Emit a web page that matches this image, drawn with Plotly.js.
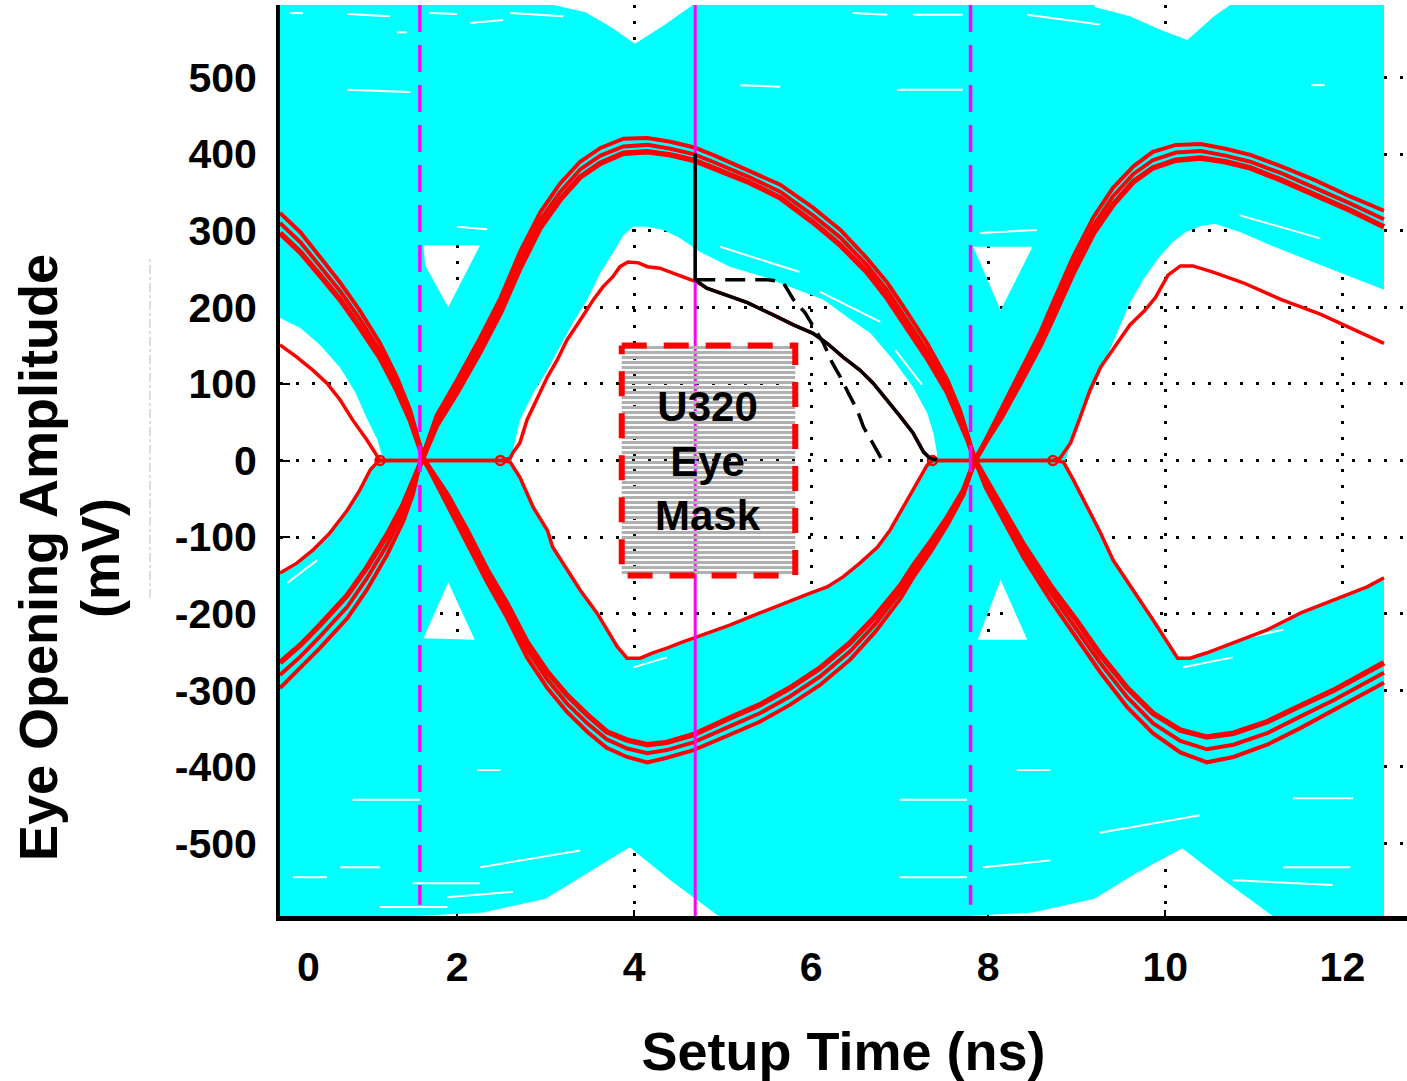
<!DOCTYPE html>
<html>
<head>
<meta charset="utf-8">
<script src="https://cdn.plot.ly/plotly-3.0.1.min.js"></script>
<style>html,body{margin:0;padding:0;background:#fff}#chart{width:1407px;height:1081px}</style>
</head>
<body>
<div id="chart"></div>
<script>
// ---------------- axis ticks ----------------
const xTickVals = [0, 2, 4, 6, 8, 10, 12];
const xTickText = ['\u00a0\u00a0\u00a0\u00a0\u00a00', '2', '4', '6', '8', '10', '12'];
const yTickVals = [-500, -400, -300, -200, -100, 0, 100, 200, 300, 400, 500];
const yTickText = ['-500', '-400', '-300', '-200', '-100', '0', '100', '200', '300', '400', '500'];

// ---------------- cyan waveform envelope (ns, mV) ----------------
const cyanOuterX = [-1, 12.47, 12.47, -1];
const cyanOuterY = [-700, -700, 700, 700];
// white openings inside the envelope
const eye0X = [-0.2, 0, 0.23, 0.45, 0.68, 0.85, 0.98, 1.10, 1.15, 1.14, 1.10, 1.02, 0.90, 0.76, 0.56, 0.37, 0.19, 0, -0.2];
const eye0Y = [194, 186, 173, 151, 121, 89, 55, 27, 7, 0, -2, -12, -39, -65, -95, -117, -134, -147, -156];
const eye1X = [2.62, 2.64, 2.71, 2.86, 3.02, 3.16, 3.31, 3.47, 3.62, 3.76, 3.88, 3.99, 4.15, 4.33, 4.52, 4.75, 5.08, 5.46, 5.84, 6.14, 6.41, 6.67, 6.93, 7.15, 7.31, 7.38, 7.42, 7.42,
  7.37, 7.31, 7.20, 7.04, 6.89, 6.75, 6.55, 6.36, 6.18, 5.99, 5.76, 5.42, 5.08, 4.67, 4.52, 4.37, 4.21, 4.07, 3.92, 3.81, 3.69, 3.58, 3.39, 3.24, 3.08, 3.02, 2.86, 2.71, 2.60];
const eye1Y = [0, 18, 53, 88, 118, 148, 180, 210, 245, 271, 294, 305, 305, 301, 290, 272, 253, 240, 223, 210, 187, 166, 131, 96, 62, 36, 10, 0,
  0, -6, -29, -61, -91, -113, -134, -152, -165, -173, -183, -199, -215, -232, -238, -245, -251, -258, -258, -243, -221, -199, -169, -143, -113, -91, -61, -22, -2];
const eye2X = [8.87, 8.95, 9.06, 9.19, 9.32, 9.47, 9.60, 9.75, 9.92, 10.08, 10.23, 10.40, 10.56, 10.85, 11.19, 11.58, 11.98, 12.27, 12.47,
  12.47, 12.28, 11.90, 11.53, 11.15, 10.77, 10.47, 10.28, 10.14, 9.86, 9.64, 9.41, 9.27, 9.12, 8.96, 8.85];
const eye2Y = [0, 27, 60, 95, 131, 170, 206, 236, 264, 285, 298, 306, 309, 298, 281, 263, 245, 232, 223,
  -153, -165, -182, -199, -221, -238, -251, -258, -258, -208, -169, -130, -95, -61, -25, -2];
const tri1UpX = [1.62, 2.26, 1.90, 1.64];
const tri1UpY = [281, 281, 200, 255];
const tri1DnX = [1.62, 2.20, 1.90];
const tri1DnY = [-232, -234, -159];
const tri2UpX = [7.83, 8.50, 8.14];
const tri2UpY = [279, 279, 196];
const tri2DnX = [7.88, 8.44, 8.14];
const tri2DnY = [-234, -234, -156];
const top1X = [3.0, 3.0, 3.45, 3.75, 4.01, 4.35, 4.69, 4.72];
const top1Y = [650, 597, 585, 565, 544, 569, 597, 650];
const top2X = [9.2, 9.2, 9.6, 9.95, 10.25, 10.55, 10.8, 10.85];
const top2Y = [650, 592, 580, 562, 549, 580, 600, 650];
const bot1X = [1.10, 1.16, 2.30, 3.00, 3.45, 3.95, 4.41, 4.97, 5.0];
const bot1Y = [-650, -597, -590, -572, -540, -505, -548, -596, -650];
const bot2X = [7.35, 7.39, 8.50, 9.20, 9.65, 10.19, 10.66, 11.23, 11.26];
const bot2Y = [-650, -597, -590, -572, -540, -506, -548, -596, -650];
// thin gaps between captured waveforms (white streaks), pairs separated by null
const streakX = [0.11, 0.26, null, 0.76, 1.24, null, 1.69, 2.00, null, 2.15, 2.52, null, 2.60, 3.20, null, 0.76, 1.47, null, 1.32, 1.43, null, 2.00, 2.34, null,
  6.47, 6.86, null, 7.15, 7.71, null, 8.44, 9.26, null, 5.20, 5.65, null, 6.97, 7.71, null, 7.91, 8.55, null, 11.65, 11.80, null,
  0.82, 1.58, null, 2.23, 2.49, null, 0.68, 1.13, null, 0.15, 0.53, null, 1.50, 2.26, null, 2.26, 3.39, null, 1.13, 1.89, null, 1.89, 2.63, null,
  7.00, 7.76, null, 8.32, 8.70, null, 11.44, 12.12, null, 9.26, 10.39, null, 7.00, 7.76, null, 7.94, 8.70, null, 11.33, 12.09, null, 10.76, 11.89, null,
  4.97, 5.87, null, 6.10, 6.78, null, 6.95, 7.25, null, 10.84, 11.75, null, 10.20, 10.76, null, 10.96, 11.33, null, 3.99, 4.37, null, 0.08, 0.42];
const streakY = [584, 584, null, 583, 580, null, 584, 583, null, 571, 575, null, 584, 580, null, 484, 481, null, 559, 559, null, 305, 302, null,
  584, 582, null, 582, 582, null, 582, 569, null, 490, 488, null, 484, 484, null, 297, 301, null, 490, 490, null,
  -443, -443, null, -404, -404, null, -531, -531, null, -544, -544, null, -552, -552, null, -531, -509, null, -583, -583, null, -570, -563, null,
  -443, -443, null, -404, -404, null, -441, -441, null, -486, -463, null, -544, -544, null, -531, -522, null, -531, -531, null, -548, -554, null,
  279, 246, null, 220, 181, null, 144, 99, null, 320, 290, null, -270, -257, null, -230, -221, null, -270, -257, null, -160, -130];

// ---------------- red worst-case waveforms ----------------
const p1X = [0, 0.23, 0.45, 0.68, 0.90, 1.13, 1.32, 1.47, 1.63, 1.89, 2.11, 2.34, 2.56, 2.79, 3.02, 3.24, 3.47, 3.69, 3.92, 4.15, 4.37, 4.67, 5.08, 5.42, 5.76, 6.10, 6.44, 6.72, 7.01, 7.15, 7.34, 7.54, 7.72, 7.85, 7.97, 8.14, 8.36, 8.59, 8.73, 8.96, 9.19, 9.41, 9.64, 9.86, 10.12, 10.40, 10.68, 10.96, 11.31, 11.69, 12.08, 12.47];
const p1Out = [323, 298, 266, 232, 196, 153, 109, 66, 0, -58, -106, -159, -204, -257, -297, -328, -354, -375, -387, -394, -388, -378, -358, -341, -319, -293, -260, -224, -180, -153, -121, -84, -45, 0, 27, 66, 116, 168, 206, 266, 318, 356, 384, 403, 412, 413, 407, 399, 384, 366, 345, 326];
const p1Mid = [310, 285, 254, 221, 185, 143, 100, 59, 0, -51, -98, -151, -195, -247, -286, -317, -343, -364, -376, -382, -378, -368, -347, -330, -308, -282, -249, -214, -171, -145, -114, -79, -42, 0, 25, 60, 108, 159, 196, 255, 307, 345, 374, 392, 402, 404, 398, 390, 375, 356, 336, 315];
const p1In = [297, 272, 242, 210, 174, 134, 92, 53, 0, -45, -91, -143, -186, -237, -276, -306, -332, -354, -365, -371, -368, -358, -336, -319, -297, -271, -238, -204, -163, -138, -108, -74, -39, 0, 24, 55, 101, 151, 186, 245, 297, 334, 364, 382, 392, 395, 390, 382, 366, 347, 327, 305];
const p2X = [0, 0.23, 0.45, 0.76, 0.98, 1.21, 1.39, 1.50, 1.59, 1.77, 2.00, 2.26, 2.49, 2.71, 2.94, 3.16, 3.39, 3.62, 3.88, 4.15, 4.41, 4.67, 4.89, 5.28, 5.65, 6.02, 6.33, 6.63, 6.86, 7.08, 7.31, 7.54, 7.68, 7.77, 7.85, 7.97, 8.14, 8.40, 8.70, 9.01, 9.27, 9.57, 9.86, 10.17, 10.47, 10.77, 11.15, 11.53, 11.90, 12.47];
const p2In = [-264, -241, -215, -176, -140, -97, -58, -28, 0, 46, 89, 142, 193, 251, 304, 340, 370, 388, 401, 403, 399, 392, 382, 364, 343, 311, 281, 246, 212, 173, 134, 89, 53, 27, 0, -25, -58, -110, -163, -211, -254, -297, -330, -352, -361, -356, -341, -320, -300, -264];
const p2Mid = [-280, -256, -230, -191, -154, -110, -69, -36, 0, 52, 97, 151, 202, 261, 314, 350, 380, 398, 410, 412, 407, 400, 390, 371, 351, 320, 291, 255, 222, 183, 143, 97, 59, 30, 0, -30, -64, -118, -172, -222, -265, -309, -343, -366, -377, -371, -356, -334, -313, -277];
const p2Out = [-297, -271, -245, -206, -169, -123, -80, -45, 0, 59, 105, 160, 212, 272, 324, 361, 390, 408, 420, 421, 416, 409, 399, 379, 360, 330, 301, 264, 232, 194, 153, 105, 66, 33, 0, -35, -71, -127, -182, -234, -277, -322, -356, -381, -394, -387, -371, -349, -326, -290];
// inner (eye-boundary) red waveforms
const innerUpX = [0, 0.19, 0.37, 0.53, 0.68, 0.82, 0.98, 1.07, 1.13, 2.49, 2.60, 2.63, 2.71, 2.79, 2.90, 3.02, 3.13, 3.24, 3.39, 3.54, 3.65, 3.76, 3.84, 3.93, 4.05, 4.15, 4.29, 4.44, 4.60, 4.71, 4.82, 5.05, 5.28, 5.57, 5.80, 6.02, 6.18, 6.36, 6.55, 6.70, 6.86, 7.01, 7.15, 7.27, 7.37, 8.73, 8.81, 8.93, 9.04, 9.15, 9.27, 9.44, 9.60, 9.77, 9.89, 10.03, 10.17, 10.31, 10.54, 10.88, 11.31, 11.75, 12.20, 12.47];
const innerUpY = [151, 135, 118, 101, 79, 53, 27, 10, 0, 0, 3, 10, 23, 53, 79, 109, 131, 157, 183, 210, 227, 240, 253, 259, 258, 253, 251, 245, 238, 233, 225, 216, 206, 190, 177, 166, 153, 135, 118, 101, 79, 57, 36, 11, 0, 0, 3, 23, 57, 92, 122, 151, 177, 196, 213, 242, 254, 254, 246, 232, 210, 191, 168, 153];
const innerLoX = [0, 0.19, 0.37, 0.56, 0.76, 0.90, 1.02, 1.10, 1.13, 2.49, 2.60, 2.71, 2.86, 3.02, 3.08, 3.24, 3.39, 3.58, 3.69, 3.81, 3.92, 4.07, 4.21, 4.37, 4.52, 4.67, 5.08, 5.42, 5.76, 5.99, 6.18, 6.36, 6.55, 6.75, 6.89, 7.04, 7.20, 7.31, 7.37, 8.73, 8.85, 8.96, 9.12, 9.27, 9.41, 9.64, 9.86, 10.14, 10.28, 10.47, 10.77, 11.15, 11.53, 11.90, 12.28, 12.47];
const innerLoY = [-147, -134, -117, -95, -65, -39, -12, -2, 0, 0, -2, -22, -61, -91, -113, -143, -169, -199, -221, -243, -258, -258, -251, -245, -238, -232, -215, -199, -183, -173, -165, -152, -134, -113, -91, -61, -29, -6, 0, 0, -2, -25, -61, -95, -130, -169, -208, -258, -258, -251, -238, -221, -199, -182, -165, -153];
const kinkX = [1.13, 2.49, 7.37, 8.73];
const kinkY = [0, 0, 0, 0];

// ---------------- markers & measurement ----------------
const dashedMarkerTimes = [1.58, 7.80];
const setupTime = 4.69;
const markerTop = 594.6, markerDashBottom = -580, markerBottom = -594.6;
const setupSolidX = [4.69, 4.69, 4.82, 5.05, 5.28, 5.57, 5.80, 6.02, 6.18, 6.36, 6.55, 6.70, 6.86, 7.01, 7.15, 7.27, 7.34, 7.42];
const setupSolidY = [401, 236, 225, 216, 206, 190, 177, 166, 153, 135, 118, 101, 79, 57, 36, 11, 3, 1];
const setupDashX = [4.69, 5.51, 5.68, 5.80, 5.93, 6.05, 6.14, 6.24, 6.33, 6.42, 6.52, 6.59, 6.69, 6.80];
const setupDashY = [236, 236, 233, 210, 193, 170, 153, 127, 109, 88, 66, 44, 23, 1];
const maskTimes = [3.86, 5.82];
const maskLevels = [-150, 150];
const maskLabel = 'U320<br>Eye<br>Mask';

// ---------------- build cyan region with openings ----------------
function ringArea(xs, ys) {
  let a = 0;
  for (let i = 0; i < xs.length; i++) {
    const j = (i + 1) % xs.length;
    a += xs[i] * ys[j] - xs[j] * ys[i];
  }
  return a / 2;
}
const CX = [], CY = [];
function addRing(xs, ys, positive) {
  let ix = xs.slice(), iy = ys.slice();
  if ((ringArea(ix, iy) > 0) !== positive) { ix.reverse(); iy.reverse(); }
  if (CX.length) { CX.push(null); CY.push(null); }
  CX.push(...ix); CY.push(...iy);
}
addRing(cyanOuterX, cyanOuterY, true);
[[eye0X, eye0Y], [eye1X, eye1Y], [eye2X, eye2Y], [tri1UpX, tri1UpY], [tri1DnX, tri1DnY],
 [tri2UpX, tri2UpY], [tri2DnX, tri2DnY], [top1X, top1Y], [top2X, top2Y], [bot1X, bot1Y], [bot2X, bot2Y]]
  .forEach(r => addRing(r[0], r[1], false));

const RED = '#ff0000', CYAN = '#00ffff', MAG = '#ff00ff';
const traces = [];
traces.push({x: CX, y: CY, type: 'scatter', mode: 'lines', fill: 'toself', fillcolor: CYAN,
  line: {width: 0, color: CYAN}, hoverinfo: 'skip'});
traces.push({x: streakX, y: streakY, type: 'scatter', mode: 'lines',
  line: {color: 'white', width: 2}, hoverinfo: 'skip'});

function redLine(x, y, w) {
  traces.push({x: x, y: y, type: 'scatter', mode: 'lines', line: {color: RED, width: w}, hoverinfo: 'skip'});
}
redLine(p1X, p1Out, 4);
redLine(p1X, p1Mid, 4);
redLine(p1X, p1In, 5.5);
redLine(p2X, p2Out, 4);
redLine(p2X, p2Mid, 4);
redLine(p2X, p2In, 5.5);
redLine(innerUpX, innerUpY, 3.5);
redLine(innerLoX, innerLoY, 3.5);
traces.push({x: kinkX, y: kinkY, type: 'scatter', mode: 'markers',
  marker: {symbol: 'circle-open', size: 9, color: RED, line: {width: 2.5, color: RED}}, hoverinfo: 'skip'});

dashedMarkerTimes.forEach(t => {
  traces.push({x: [t, t], y: [markerTop, markerDashBottom], type: 'scatter', mode: 'lines',
    line: {color: MAG, width: 3.5, dash: '27px,13px'}, hoverinfo: 'skip'});
});
traces.push({x: [setupTime, setupTime], y: [markerTop, markerBottom], type: 'scatter', mode: 'lines',
  line: {color: MAG, width: 3}, hoverinfo: 'skip'});

traces.push({x: setupDashX, y: setupDashY, type: 'scatter', mode: 'lines',
  line: {color: 'black', width: 3.5, dash: '20px,10px'}, hoverinfo: 'skip'});
traces.push({x: setupSolidX, y: setupSolidY, type: 'scatter', mode: 'lines',
  line: {color: 'black', width: 3.5}, hoverinfo: 'skip'});

traces.push({
  x: [maskTimes[0], maskTimes[1], maskTimes[1], maskTimes[0], maskTimes[0]],
  y: [maskLevels[1], maskLevels[1], maskLevels[0], maskLevels[0], maskLevels[1]],
  type: 'scatter', mode: 'lines', fill: 'toself', fillcolor: 'rgba(0,0,0,0)',
  fillpattern: {shape: '-', size: 5, solidity: 0.62, fgcolor: '#b0b0b0', bgcolor: 'rgba(0,0,0,0)'},
  line: {color: RED, width: 6, dash: '25px,17px'}, hoverinfo: 'skip'
});

const FONT = 'Arial, "Liberation Sans", sans-serif';
const layout = {
  width: 1407, height: 1081,
  margin: {l: 280, r: 0, t: 5, b: 165, pad: 0},
  paper_bgcolor: 'white', plot_bgcolor: 'white',
  showlegend: false,
  font: {family: FONT, color: 'black'},
  xaxis: {
    range: [0, 12.73], tickmode: 'array', tickvals: xTickVals, ticktext: xTickText,
    tickfont: {size: 41, weight: 'bold', family: FONT, color: 'black'},
    showgrid: true, gridcolor: 'black', gridwidth: 3, griddash: '3px,13px',
    zeroline: false, showline: true, linecolor: 'black', linewidth: 5,
    ticks: 'inside', ticklen: 6, tickwidth: 2, tickcolor: 'black',
    layer: 'below traces', ticklabelstandoff: 11,
    title: {text: 'Setup Time (ns)', font: {size: 54, weight: 'bold', family: FONT, color: 'black'}, standoff: 55},
    fixedrange: true
  },
  yaxis: {
    range: [-594.6, 594.6], tickmode: 'array', tickvals: yTickVals, ticktext: yTickText,
    tickfont: {size: 41, weight: 'bold', family: FONT, color: 'black'},
    showgrid: true, gridcolor: 'black', gridwidth: 3, griddash: '3px,13px',
    zeroline: false, showline: true, linecolor: 'black', linewidth: 4,
    ticks: 'inside', ticklen: 10, tickwidth: 2, tickcolor: 'black',
    layer: 'below traces', ticklabelstandoff: 11,
    fixedrange: true
  },
  annotations: [
    {text: 'Eye Opening Amplitude', xref: 'paper', yref: 'paper', x: -0.2147, y: 0.393,
     xanchor: 'center', yanchor: 'middle', textangle: -90, showarrow: false,
     font: {size: 54, weight: 'bold', family: FONT, color: 'black'}},
    {text: '(mV)', xref: 'paper', yref: 'paper', x: -0.1597, y: 0.393,
     xanchor: 'center', yanchor: 'middle', textangle: -90, showarrow: false,
     font: {size: 54, weight: 'bold', family: FONT, color: 'black'}},
    {text: maskLabel, xref: 'x', yref: 'y', x: (maskTimes[0] + maskTimes[1]) / 2, y: 0,
     xanchor: 'center', yanchor: 'middle', showarrow: false,
     font: {size: 42, weight: 'bold', family: FONT, color: 'black'}}
  ],
  shapes: [
    {type: 'line', xref: 'paper', yref: 'paper', x0: -0.1154, x1: -0.1154, y0: 0.349, y1: 0.7223,
     line: {color: '#bbbbbb', width: 1, dash: 'dashdot'}}
  ]
};

Plotly.newPlot('chart', traces, layout, {displayModeBar: false, staticPlot: true});
</script>
</body>
</html>
